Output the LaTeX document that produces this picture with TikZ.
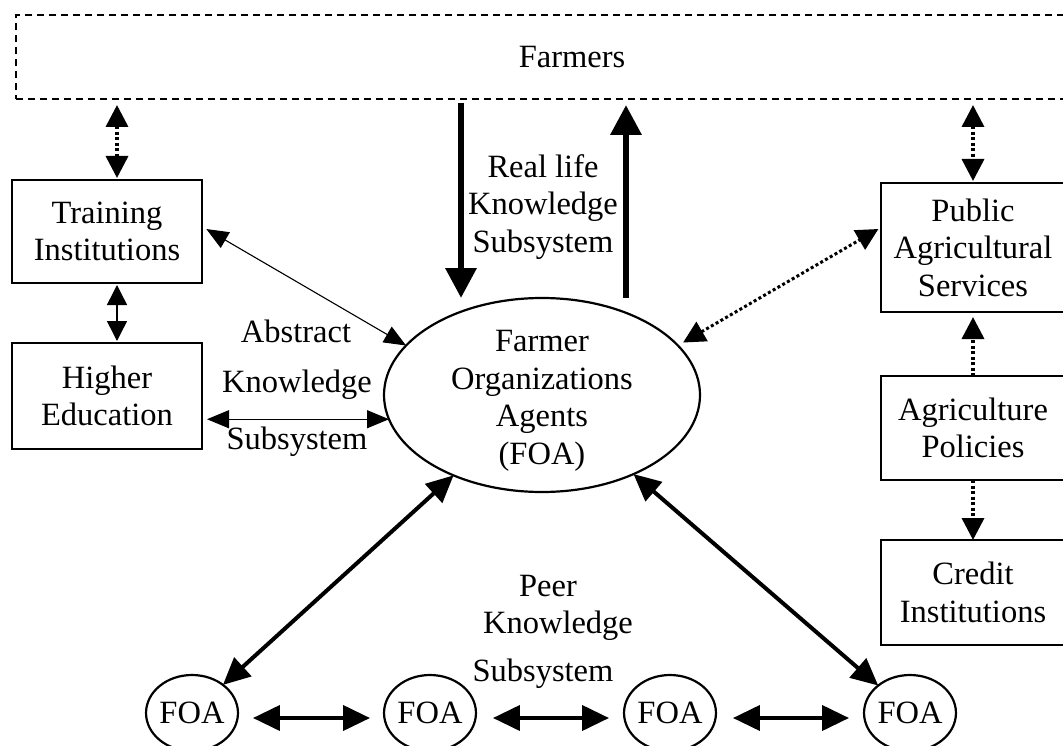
\documentclass[tikz,border=0pt]{standalone}
\usepackage{fontspec}
\setmainfont{Liberation Serif}
\usetikzlibrary{arrows.meta,shapes.geometric}

\begin{document}
\begin{tikzpicture}[x=1pt,y=-1pt,
  font=\fontsize{32.5}{37.5}\selectfont,
  box/.style={draw, line width=2.5pt, minimum width=190pt, inner sep=0pt, outer sep=0pt, align=center},
  oval/.style={draw, ellipse, line width=2.2pt, inner sep=0pt, outer sep=0pt},
  realarrow/.style={line width=6.5pt, -{Triangle[length=30pt,width=30pt]}},
  peerarrow/.style={line width=4pt, {Triangle[length=27pt,width=25pt]}-{Triangle[length=27pt,width=25pt]}},
  dotone/.style={line width=3.5pt, dash pattern=on 3pt off 2.5pt, -{Triangle[length=22pt,width=22pt]}},
  dotboth/.style={line width=3.5pt, dash pattern=on 3pt off 2.5pt, {Triangle[length=22pt,width=22pt]}-{Triangle[length=22pt,width=22pt]}},
  midarrow/.style={line width=1.5pt, {Triangle[length=20pt,width=20pt]}-{Triangle[length=20pt,width=20pt]}},
  thinarrow/.style={line width=1.1pt, {Triangle[length=22pt,width=18pt]}-{Triangle[length=22pt,width=18pt]}}]
  \useasboundingbox (0,0) rectangle (1063,746);

  % Farmers band (runs off the right edge)
  \node[draw, line width=2.2pt, dash pattern=on 7pt off 5pt, minimum width=1112pt, minimum height=84pt,
        inner sep=0pt, outer sep=0pt] (farmers) at (572,57) {Farmers};

  % Left column
  \node[box, minimum height=103pt] (train)  at (107,231.5) {Training\\Institutions};
  \node[box, minimum height=106pt] (higher) at (107,396)   {Higher\\Education};

  % Right column
  \node[box, minimum width=184pt, minimum height=129pt] (pub)    at (973,247.5) {Public\\Agricultural\\Services};
  \node[box, minimum width=184pt, minimum height=104pt] (pol)    at (973,428)   {Agriculture\\Policies};
  \node[box, minimum width=184pt, minimum height=105pt] (credit) at (973,592.5) {Credit\\Institutions};

  % Central farmer organization
  \node[oval, minimum width=316pt, minimum height=194pt] (foa) at (542,395) {};
  \node[align=center] (foatext) at (542,401) {Farmer\\Organizations\\Agents\\(FOA)};

  % Peer organizations
  \node[oval, minimum width=90pt, minimum height=76pt] (f1) at (192,713) {FOA};
  \node[oval, minimum width=90pt, minimum height=76pt] (f2) at (430,713) {FOA};
  \node[oval, minimum width=90pt, minimum height=76pt] (f3) at (670,713) {FOA};
  \node[oval, minimum width=90pt, minimum height=76pt] (f4) at (910,713) {FOA};

  % Subsystem labels
  \node[align=center] (reallife) at (543,207) {Real life\\Knowledge\\Subsystem};
  \node[anchor=base] (abstract1) at (296,342) {Abstract};
  \node[anchor=base] (abstract2) at (297,392) {Knowledge};
  \node[anchor=base] (abstract3) at (297,449) {Subsystem};
  \node[anchor=base] (peer1) at (548,596) {Peer};
  \node[anchor=base] (peer2) at (558,633) {Knowledge};
  \node[anchor=base] (peer3) at (543,681) {Subsystem};

  % Helper coordinates for the vertical links
  \coordinate (tn) at ([xshift=10pt]train.north);
  \coordinate (ts) at ([xshift=10pt]train.south);
  \coordinate (dn) at (461,0);
  \coordinate (up) at (626,0);

  % Real life knowledge links
  \draw[realarrow, shorten <=4pt] (farmers.south -| dn) -- (foa.north -| dn);
  \draw[realarrow, shorten >=6pt] (foa.north -| up) -- (farmers.south -| up);

  % Abstract knowledge links
  \draw[dotboth, shorten <=6pt, shorten >=2pt] (tn |- farmers.south) -- (tn);
  \draw[midarrow, shorten <=2pt, shorten >=2pt] (ts) -- (ts |- higher.north);
  \draw[thinarrow, shorten <=5pt] ([yshift=5pt]train.east) -- (foa.160);
  \draw[thinarrow, shorten >=5pt] (foa.189) -- (foa.189 -| higher.east);

  % Public side links
  \draw[dotboth, shorten <=6pt, shorten >=2pt] (farmers.south -| pub.north) -- (pub.north);
  \draw[dotboth, line width=3pt, shorten <=6pt, shorten >=3pt] (foa.20) -- ([yshift=20pt]pub.west);
  \draw[dotone, shorten >=5pt] (pol.north) -- (pub.south);
  \draw[dotone] (pol.south) -- (credit.north);

  % Peer knowledge links
  \draw[peerarrow] (foa) -- (f1);
  \draw[peerarrow] (foa) -- (f4);
  \draw[peerarrow, shorten <=15pt, shorten >=14pt] ([yshift=-5pt]f1.east) -- ([yshift=-5pt]f2.west);
  \draw[peerarrow, shorten <=17pt, shorten >=15pt] ([yshift=-5pt]f2.east) -- ([yshift=-5pt]f3.west);
  \draw[peerarrow, shorten <=17pt, shorten >=15pt] ([yshift=-5pt]f3.east) -- ([yshift=-5pt]f4.west);
\end{tikzpicture}
\end{document}
